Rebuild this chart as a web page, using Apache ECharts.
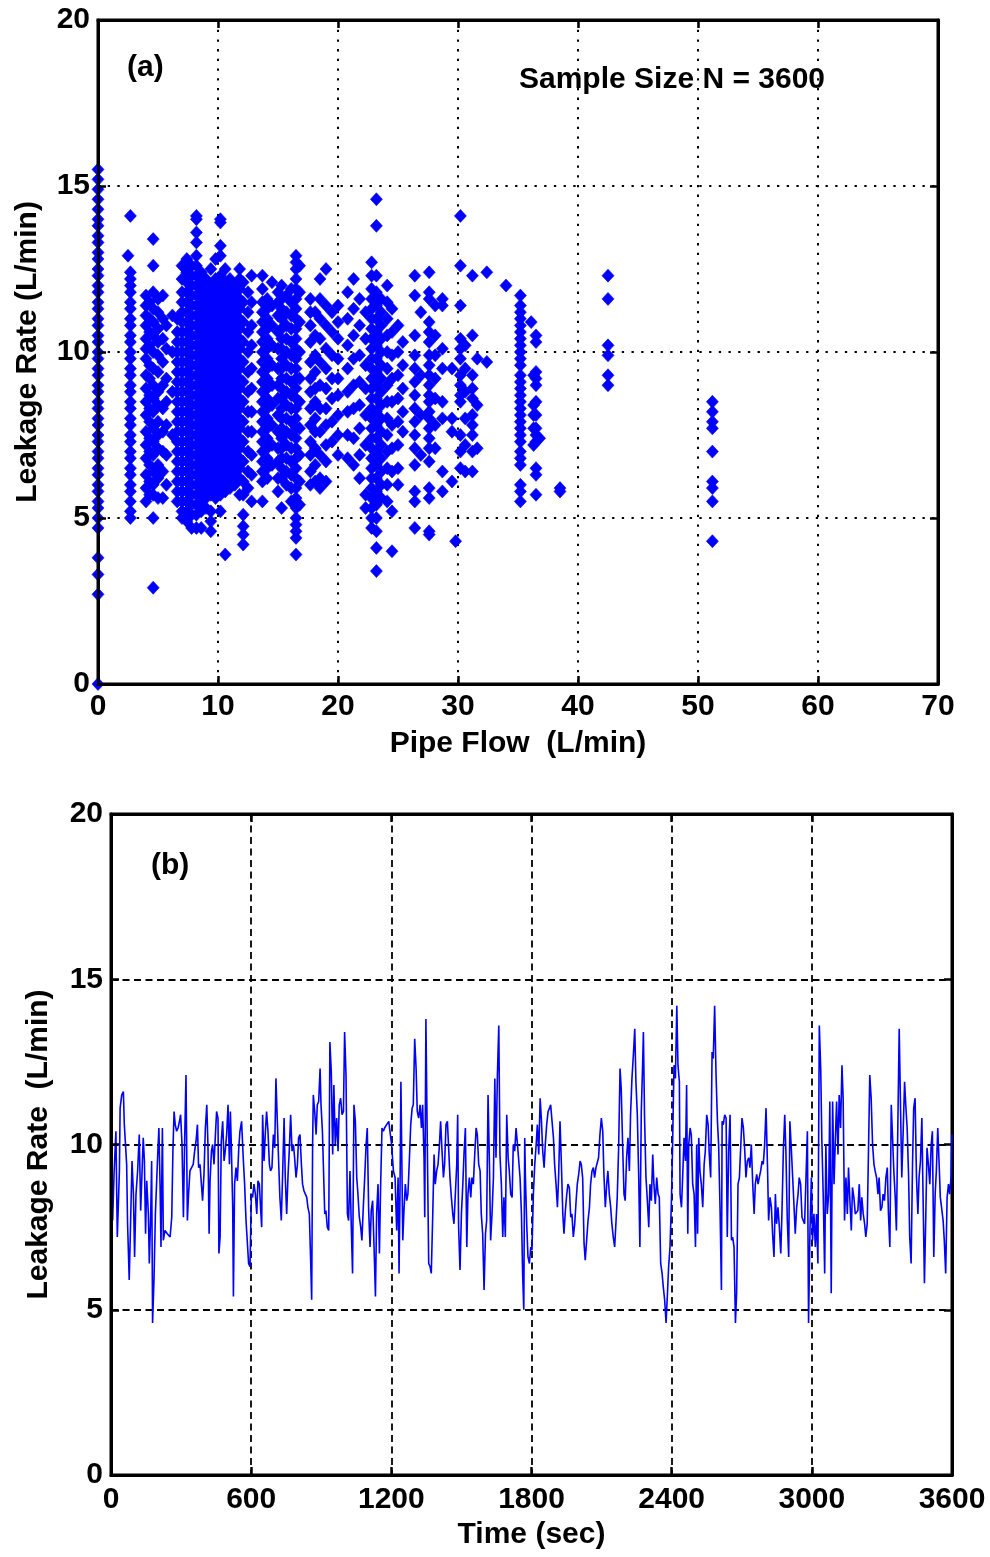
<!DOCTYPE html>
<html><head><meta charset="utf-8">
<script src="https://cdn.jsdelivr.net/npm/echarts@6/dist/echarts.min.js"></script>
<style>html,body{margin:0;padding:0;background:#fff}#c{width:990px;height:1557px}</style>
</head><body><div id="c"></div>
<script>
// ---------- Panel (a): Leakage rate vs pipe flow (columns of [flow, leak values]) ----------
const colsLow = [
  [0, [15.5,15.2,14.9,14.6,14.3,14.0,13.8,13.5,13.3,13.0,12.8,12.5,12.3,12.0,11.8,11.5,11.3,11.0,10.8,10.5,10.3,10.0,9.8,9.5,9.3,9.0,8.8,8.5,8.3,8.0,7.8,7.5,7.3,7.0,6.8,6.5,6.3,6.0,5.8,5.5,5.3,5.0,4.7,3.8,3.3,2.7,0.0]],
  [2.5, [12.9]],
  [2.7, [14.1,12.4,12.2,12.0,11.8,11.5,11.3,11.0,10.8,10.5,10.3,10.0,9.8,9.5,9.3,9.0,8.8,8.5,8.3,8.0,7.8,7.5,7.3,7.0,6.8,6.5,6.3,6.0,5.8,5.5,5.2,5.0]],
  [4.0, [11.7,11.4,11.1,10.8,10.4,10.1,9.8,9.3,8.9,8.5,8.1,7.6,7.2,6.8,6.3,5.9,5.5]],
  [4.3, [11.5,11.0,10.6,10.2,9.6,9.2,8.7,8.3,7.9,7.4,7.0,6.6,6.1,5.7]],
  [4.6, [13.4,12.6,11.8,11.3,10.9,10.5,10.0,9.5,9.0,8.6,8.2,7.7,7.3,6.9,6.4,6.0,5.7,5.0,2.9]],
  [5.0, [11.6,11.2,10.7,10.3,9.9,9.4,8.8,8.4,7.9,7.5,7.1,6.6,6.2,5.6]],
  [5.4, [11.7,11.0,10.4,9.7,9.0,8.3,7.6,7.0,6.4,5.6]],
  [5.7, [10.8,10.1,9.2,8.5,7.8,6.9,6.0]],
  [6.2, [11.1,10.0,8.8,7.5]]
];
const colsBlob = [
  [6.6, [11.0,10.6,10.3,10.0,9.7,9.4,9.1,8.8,8.5,8.2,7.9,7.6,7.3,7.0,6.7,6.4,6.1,5.8,5.5]],
  [7.0, [12.6,12.2,11.8,11.5,11.2,10.9,10.6,10.3,10.0,9.7,9.4,9.1,8.8,8.5,8.2,7.9,7.6,7.3,7.0,6.7,6.4,6.1,5.8,5.5,5.2,5.0]],
  [7.4, [12.8,12.4,12.1,11.8,11.5,11.2,10.9,10.6,10.3,10.0,9.7,9.4,9.1,8.8,8.5,8.2,7.9,7.6,7.3,7.0,6.7,6.4,6.1,5.8,5.5,5.2,4.9]],
  [7.8, [12.6,12.3,12.0,11.7,11.4,11.1,10.8,10.5,10.2,9.9,9.6,9.3,9.0,8.7,8.4,8.1,7.8,7.5,7.2,6.9,6.6,6.3,6.0,5.7,5.4,5.1,4.7]],
  [8.2, [14.1,14.0,13.6,13.3,12.9,12.6,12.3,12.0,11.7,11.4,11.1,10.8,10.5,10.2,9.9,9.6,9.3,9.0,8.7,8.4,8.1,7.8,7.5,7.2,6.9,6.6,6.3,6.0,5.7,5.4,5.1,4.7]],
  [8.6, [12.4,12.1,11.8,11.5,11.2,10.9,10.6,10.3,10.0,9.7,9.4,9.1,8.8,8.5,8.2,7.9,7.6,7.3,7.0,6.7,6.4,6.1,5.8,5.5,5.2,4.7]],
  [9.0, [12.2,11.9,11.6,11.3,11.0,10.7,10.4,10.1,9.8,9.5,9.2,8.9,8.6,8.3,8.0,7.7,7.4,7.1,6.8,6.5,6.2,5.9,5.6,5.3]],
  [9.4, [12.5,12.0,11.7,11.4,11.1,10.8,10.5,10.2,9.9,9.6,9.3,9.0,8.7,8.4,8.1,7.8,7.5,7.2,6.9,6.6,6.3,6.0,5.7,5.2,4.9,4.6]],
  [9.8, [12.8,12.2,11.9,11.6,11.3,11.0,10.7,10.4,10.1,9.8,9.5,9.2,8.9,8.6,8.3,8.0,7.7,7.4,7.1,6.8,6.5,6.2,5.9,5.6]],
  [10.2, [14.0,13.9,13.2,12.9,12.3,12.0,11.7,11.4,11.1,10.8,10.5,10.2,9.9,9.6,9.3,9.0,8.7,8.4,8.1,7.8,7.5,7.2,6.9,6.6,6.3,6.0,5.7,5.2]],
  [10.6, [12.5,12.1,11.8,11.5,11.2,10.9,10.6,10.3,10.0,9.7,9.4,9.1,8.8,8.5,8.2,7.9,7.6,7.3,7.0,6.7,6.4,6.1,5.8,3.9]],
  [11.0, [12.2,11.9,11.6,11.3,11.0,10.7,10.4,10.1,9.8,9.5,9.2,8.9,8.6,8.3,8.0,7.7,7.4,7.1,6.8,6.5,6.2,5.9]],
  [11.4, [12.0,11.7,11.4,11.1,10.8,10.5,10.2,9.9,9.6,9.3,9.0,8.7,8.4,8.1,7.8,7.5,7.2,6.9,6.6,6.3,6.0]],
  [11.8, [12.5,12.2,11.9,11.6,11.3,11.0,10.7,10.4,10.1,9.8,9.5,9.2,8.9,8.6,8.3,8.0,7.7,7.4,7.1,6.8,6.5,6.2,5.7]],
  [12.1, [12.1,11.5,10.9,10.3,9.7,9.1,8.5,7.9,7.3,6.7,6.1,5.7,5.1,4.75,4.5,4.2]],
  [12.5, [11.8,11.2,10.6,10.0,9.4,8.8,8.2,7.6,7.0,6.4,5.9]],
  [12.8, [12.3,11.5,10.8,10.2,9.5,8.9,8.2,7.6,6.9,6.3,5.5]]
];
const colsMid = [
  [13.7, [12.3,11.9,11.5,11.2,10.9,10.6,10.3,10.0,9.7,9.4,9.1,8.8,8.5,8.2,7.9,7.6,7.3,7.0,6.7,6.4,6.1,5.5]],
  [14.1, [11.6,11.3,11.0,10.7,10.4,10.1,9.8,9.5,9.2,8.9,8.6,8.3,8.0,7.7,7.4,7.1,6.8,6.5,6.2]],
  [14.5, [12.1,11.4,10.8,10.2,9.6,9.0,8.4,7.8,7.2,6.6]],
  [15.0, [11.8,11.5,11.1,10.6,10.1,9.5,9.0,8.6,8.1,7.6,7.1,6.7,6.2,5.8]],
  [15.3, [12.0,11.6,11.3,11.0,10.7,10.4,10.1,9.8,9.5,9.2,8.9,8.6,8.3,8.0,7.7,7.4,7.1,6.8,6.5,6.2,5.3]],
  [15.7, [11.7,11.2,10.8,10.4,10.0,9.6,9.2,8.8,8.4,8.0,7.6,7.2,6.8,6.4,6.0]],
  [16.1, [11.9,11.5,11.1,10.7,10.3,9.9,9.5,9.1,8.7,8.3,7.9,7.5,7.1,6.7,6.3,5.9,5.5]],
  [16.5, [12.9,12.7,12.5,12.2,11.9,11.6,11.3,11.0,10.7,10.4,10.1,9.8,9.5,9.2,8.9,8.6,8.3,8.0,7.7,7.4,7.1,6.8,6.5,6.2,5.9,5.6,5.3,5.0,4.8,4.6,4.4,3.9]],
  [16.8, [12.6,11.8,10.9,10.0,9.2,8.5,7.7,6.9,6.1,5.4]],
  [17.7, [11.6,11.2,10.8,10.3,9.7,9.2,8.8,8.3,7.8,7.3,6.9,6.4,6.0]],
  [18.1, [11.2,10.5,9.9,9.4,8.9,8.5,8.0,7.6,7.1,6.6,6.1]],
  [18.5, [12.2,11.6,11.0,10.4,9.7,9.0,8.3,7.6,6.9,6.2,5.9]],
  [19.0, [12.5,11.4,10.8,10.1,9.5,8.9,8.3,7.8,7.2,6.7,6.1]],
  [19.5, [11.2,10.6,9.9,9.2,8.6,7.9,7.3]],
  [20.0, [11.4,10.9,10.4,9.8,9.2,8.7,8.1,7.5,6.9]],
  [20.8, [11.8,11.0,10.2,9.5,8.8,8.2,7.5,6.8]],
  [21.3, [12.2,11.3,10.5,9.8,9.0,8.3,7.4,6.6]],
  [21.8, [11.6,10.8,9.9,9.1,8.4,7.7,6.9,6.2]],
  [22.3, [11.2,10.4,9.6,8.9,8.1,7.2,5.7,5.3]],
  [22.8, [12.7,12.3,11.9,11.6,11.3,11.0,10.7,10.4,10.1,9.8,9.5,9.2,8.9,8.6,8.3,8.0,7.7,7.4,7.1,6.8,6.5,6.2,5.9,5.6,5.3,5.0,4.7]],
  [23.2, [14.6,13.8,12.3,11.8,11.4,11.0,10.6,10.2,9.8,9.4,9.0,8.6,8.2,7.8,7.4,7.0,6.6,6.2,5.8,5.4,5.0,4.6,4.1,3.4]],
  [23.6, [11.6,11.2,10.8,10.4,10.0,9.6,9.2,8.8,8.4,8.0,7.6,7.2,6.8,6.4,6.0,5.6]],
  [24.1, [12.0,11.5,11.0,10.5,10.0,9.5,9.0,8.5,8.0,7.5,7.0,6.5,6.0,5.5]],
  [24.5, [11.3,10.6,9.9,9.2,8.5,7.8,7.1,6.4,5.2,4.0]],
  [25.0, [10.8,10.0,9.3,8.6,7.9,7.2,6.5,6.0]],
  [25.4, [10.3,9.6,8.9,8.2,7.6]]
];
const colsHigh = [
  [26.4, [12.3,11.7,10.5,9.9,9.5,9.1,8.7,8.3,7.9,7.5,7.1,6.6,5.8,5.5,4.7]],
  [26.9, [11.2,9.3,8.1,6.9]],
  [27.6, [12.4,11.8,11.6,10.9,10.6,10.3,9.9,9.6,9.3,9.0,8.7,8.5,8.2,8.0,7.7,7.4,7.1,6.7,5.9,5.6,4.6,4.5]],
  [28.1, [11.4,10.5,9.9,9.2,8.6,7.8,7.1]],
  [28.7, [11.6,11.4,10.1,9.5,8.5,8.0,6.4,5.8]],
  [29.5, [9.5,8.0,7.6,6.1]],
  [29.8, [4.3]],
  [30.2, [14.1,12.6,11.4,10.4,10.1,9.8,9.3,9.0,8.7,8.5,7.5,7.0,6.5]],
  [30.6, [10.2,9.5,8.8,8.0,7.2,6.4]],
  [31.2, [12.3,10.5,9.3,8.9,8.6,8.1,7.8,7.5,7.0,6.4]],
  [31.6, [9.8,8.4,7.1]],
  [32.4, [12.4,9.7]],
  [34.0, [12.0]],
  [35.2, [11.7,11.4,11.2,11.0,10.8,10.6,10.4,10.2,10.0,9.8,9.6,9.3,9.1,8.9,8.7,8.5,8.3,8.1,7.9,7.7,7.5,7.3,7.0,6.8,6.6,6.0,5.8,5.5]],
  [36.1, [10.9]],
  [36.3, [9.3,8.4,8.1,7.7,7.2]],
  [36.5, [10.5,10.3,9.4,9.2,9.0,8.5,8.1,7.7,7.5,7.3,6.5,6.3,5.7]],
  [36.8, [7.4]],
  [38.5, [5.9,5.8]],
  [42.5, [12.3,11.6,10.2,9.9,9.3,9.0]],
  [51.2, [8.5,8.2,7.9,7.7,7.0,6.1,5.9,5.5,4.3]]
];

// ---------- Panel (b): Leakage rate vs time, [sec, L/min] ----------
const leakTrace = [
[7,7.7],[13,9.1],[21,10.4],[27,7.2],[36,9.2],[39,11.1],[46,11.5],[53,11.6],[57,10.6],[67,9.4],[71,7.6],[78,5.9],[84,7.7],[90,9.5],[96,8.5],[101,6.6],[107,8.5],[114,9.2],[121,10.3],[127,8.0],[133,9.2],[138,10.2],[143,9.5],[148,7.3],[153,8.9],[160,7.9],[164,6.4],[170,7.9],[174,9.5],[178,4.6],[184,5.9],[190,7.9],[195,8.8],[200,9.7],[205,10.5],[210,8.8],[214,6.9],[220,10.5],[224,7.1],[231,7.4],[241,7.3],[253,7.2],[260,7.8],[265,9.8],[270,11.0],[275,10.6],[281,10.4],[287,10.5],[293,10.7],[298,10.9],[304,10.0],[310,7.8],[315,10.0],[321,12.1],[327,7.7],[332,8.5],[338,9.2],[345,9.2],[352,9.4],[358,9.8],[364,10.1],[370,10.6],[375,9.3],[381,9.4],[387,8.8],[392,8.3],[398,9.1],[404,10.5],[410,11.2],[415,10.0],[420,7.3],[424,8.9],[430,9.8],[435,10.0],[441,9.4],[447,10.3],[452,11.0],[458,10.8],[462,6.7],[467,7.2],[472,10.1],[478,10.7],[484,9.5],[489,9.8],[495,10.3],[501,11.2],[507,9.4],[511,11.0],[515,10.0],[521,8.1],[524,5.4],[529,8.8],[535,9.3],[541,8.9],[547,9.9],[552,10.4],[559,10.7],[566,9.6],[572,8.8],[578,7.7],[584,7.0],[589,6.4],[595,6.3],[601,8.5],[606,8.4],[612,8.8],[618,8.5],[624,7.9],[629,8.9],[635,8.8],[641,8.0],[645,7.5],[649,10.9],[655,9.5],[661,10.4],[666,11.0],[672,10.4],[678,9.4],[683,9.2],[689,9.3],[695,10.3],[701,9.9],[706,12.0],[712,10.7],[718,9.4],[723,8.4],[729,7.7],[735,9.2],[741,10.8],[746,9.0],[752,7.9],[758,9.1],[763,9.8],[769,10.9],[775,9.8],[781,10.0],[786,9.6],[792,9.0],[798,9.4],[803,10.2],[809,10.3],[815,9.4],[820,8.8],[826,8.6],[832,8.5],[838,8.4],[843,8.1],[849,7.9],[855,6.4],[859,5.3],[863,10.0],[866,11.5],[872,11.0],[878,10.3],[883,11.2],[889,11.3],[895,12.3],[899,11.2],[905,10.4],[909,9.4],[915,7.9],[920,8.0],[926,7.5],[932,7.4],[937,13.1],[943,12.2],[949,9.7],[954,11.8],[960,10.0],[966,10.8],[972,9.8],[977,11.2],[983,11.4],[989,10.9],[995,11.0],[1000,13.4],[1006,12.1],[1012,7.9],[1017,7.7],[1023,9.2],[1029,7.4],[1034,6.1],[1040,11.2],[1046,10.7],[1052,9.0],[1057,8.5],[1063,7.8],[1069,7.5],[1074,7.1],[1080,8.1],[1086,9.0],[1092,10.0],[1097,10.5],[1103,8.0],[1109,6.9],[1114,8.0],[1120,8.3],[1126,6.9],[1132,5.4],[1137,7.9],[1143,8.8],[1149,6.7],[1154,8.7],[1160,10.5],[1166,10.4],[1171,10.5],[1180,10.6],[1189,10.7],
[1201,10.0],[1209,9.2],[1216,9.0],[1223,7.4],[1229,9.0],[1233,6.1],[1237,8.5],[1241,11.9],[1245,9.5],[1249,7.1],[1254,8.0],[1260,8.8],[1266,8.3],[1271,8.5],[1277,9.5],[1283,10.6],[1289,11.1],[1294,11.2],[1300,13.2],[1306,12.3],[1311,11.0],[1317,10.8],[1323,11.2],[1329,10.5],[1334,11.2],[1340,9.6],[1343,7.8],[1348,13.8],[1354,10.0],[1360,6.4],[1366,6.3],[1371,6.1],[1377,7.8],[1383,9.7],[1388,8.8],[1394,9.2],[1400,9.4],[1406,10.0],[1411,10.7],[1417,9.8],[1423,9.0],[1428,9.4],[1434,10.6],[1440,10.7],[1446,9.8],[1451,9.0],[1457,8.4],[1463,7.9],[1468,7.6],[1474,8.5],[1480,9.4],[1484,10.9],[1488,7.5],[1494,6.2],[1500,7.9],[1506,8.8],[1511,9.7],[1517,10.5],[1523,6.9],[1528,8.5],[1534,9.0],[1540,8.4],[1545,9.0],[1551,8.8],[1557,9.7],[1563,10.5],[1568,10.3],[1574,9.4],[1580,9.2],[1585,7.9],[1591,7.3],[1597,5.6],[1603,7.3],[1608,7.7],[1614,11.5],[1620,9.4],[1625,7.1],[1631,7.9],[1637,9.0],[1643,12.0],[1648,9.6],[1654,12.1],[1660,13.6],[1665,9.7],[1671,8.8],[1677,7.2],[1682,8.4],[1688,7.2],[1694,10.9],[1700,9.6],[1705,9.2],[1711,8.5],[1717,8.4],[1722,10.0],[1728,9.8],[1734,10.5],[1740,10.0],[1745,10.0],[1751,9.0],[1757,7.9],[1762,6.1],[1767,5.0],[1771,10.2],[1774,9.0],[1780,7.5],[1785,6.6],[1791,6.4],[1797,6.9],[1802,6.8],[1808,8.5],[1814,9.4],[1820,10.0],[1825,10.6],[1831,9.7],[1837,11.4],[1842,10.8],[1848,9.8],[1854,9.3],[1859,10.0],[1865,10.6],[1871,11.0],[1877,11.1],[1882,11.2],[1888,10.7],[1894,10.2],[1899,9.4],[1905,8.8],[1911,8.1],[1916,9.0],[1922,10.7],[1928,9.4],[1934,7.9],[1939,7.3],[1945,8.0],[1951,8.5],[1956,8.8],[1962,8.7],[1968,7.8],[1973,7.9],[1979,7.2],[1985,7.6],[1991,8.3],[1996,8.8],[2002,9.1],[2008,9.5],[2013,9.4],[2019,9.0],[2025,7.0],[2030,6.5],[2036,7.1],[2042,7.7],[2048,8.1],[2053,8.8],[2059,9.2],[2065,9.3],[2070,9.0],[2076,9.3],[2082,9.3],[2087,9.6],[2093,10.3],[2099,10.8],[2105,10.4],[2110,9.1],[2116,8.1],[2122,8.8],[2127,9.2],[2133,8.5],[2139,8.1],[2144,7.6],[2150,7.2],[2156,6.9],[2162,7.7],[2167,8.4],[2173,9.9],[2179,12.3],[2184,11.7],[2190,10.0],[2196,8.5],[2201,8.3],[2207,9.6],[2213,10.2],[2219,9.2],[2224,10.9],[2230,12.0],[2236,12.7],[2242,13.5],[2247,11.9],[2253,10.9],[2259,9.0],[2264,6.9],[2270,11.0],[2276,12.5],[2279,13.4],[2284,10.8],[2290,9.0],[2296,8.3],[2302,7.5],[2307,8.8],[2313,8.3],[2319,9.7],[2324,8.8],[2330,8.2],[2336,9.0],[2342,8.5],[2347,8.4],[2353,6.4],[2359,6.1],[2364,5.7],[2370,5.3],[2376,4.6],[2382,5.5],[2387,6.3],[2393,6.9],[2399,8.3],[2404,10.0],[2410,12.4],[2416,12.0],[2422,14.2],[2427,12.4],[2433,11.9],
[2436,8.5],[2442,8.1],[2447,9.0],[2453,10.2],[2459,9.5],[2464,11.8],[2469,7.3],[2473,10.0],[2479,10.5],[2484,10.3],[2490,8.8],[2496,8.5],[2502,6.9],[2507,10.0],[2511,7.3],[2516,10.2],[2521,9.2],[2527,8.8],[2533,8.1],[2539,9.4],[2544,9.8],[2550,10.9],[2556,10.6],[2561,9.7],[2567,9.0],[2573,12.8],[2578,12.6],[2584,14.2],[2590,12.1],[2596,10.7],[2601,10.0],[2607,8.1],[2613,5.6],[2616,10.7],[2621,10.6],[2627,10.9],[2633,10.8],[2638,7.2],[2644,9.8],[2650,10.9],[2656,7.1],[2661,7.2],[2667,6.9],[2673,4.6],[2678,5.5],[2684,8.8],[2690,9.0],[2696,10.0],[2701,10.8],[2707,10.5],[2713,9.8],[2718,9.0],[2724,9.5],[2730,9.6],[2735,9.3],[2741,10.0],[2747,8.8],[2753,7.9],[2758,8.8],[2764,9.1],[2770,8.8],[2775,9.0],[2781,9.2],[2787,9.5],[2792,9.4],[2798,10.0],[2804,11.1],[2810,9.4],[2815,7.7],[2821,8.4],[2827,8.1],[2832,7.3],[2838,6.6],[2844,8.5],[2849,7.6],[2855,8.1],[2861,7.5],[2867,6.7],[2872,7.9],[2878,9.8],[2884,10.9],[2889,9.8],[2895,7.7],[2901,6.6],[2906,10.7],[2912,9.9],[2918,9.0],[2924,8.1],[2929,7.3],[2935,8.1],[2941,8.5],[2946,9.0],[2952,8.8],[2958,7.8],[2963,7.7],[2969,7.6],[2975,9.0],[2981,10.4],[2986,4.6],[2992,7.4],[2998,9.0],[3003,7.1],[3009,7.9],[3015,6.9],[3020,7.9],[3026,6.4],[3032,13.6],[3038,12.3],[3043,10.1],[3049,8.4],[3055,6.1],[3060,10.0],[3066,7.9],[3072,8.5],[3077,11.3],[3083,5.5],[3089,11.3],[3095,8.8],[3100,10.0],[3106,11.3],[3112,9.7],[3117,11.5],[3123,10.5],[3129,12.4],[3134,11.4],[3140,7.7],[3146,9.0],[3152,7.9],[3157,9.3],[3163,8.3],[3169,7.4],[3174,8.7],[3180,8.4],[3186,7.9],[3191,7.9],[3197,8.0],[3203,8.8],[3209,7.7],[3214,8.4],[3220,7.9],[3226,7.6],[3231,7.2],[3237,7.6],[3243,10.0],[3248,12.1],[3254,11.4],[3260,10.0],[3266,9.4],[3271,9.2],[3277,9.0],[3283,8.5],[3288,9.0],[3294,8.0],[3300,8.1],[3305,8.5],[3311,8.3],[3317,9.0],[3323,9.3],[3328,7.9],[3334,6.9],[3340,11.2],[3345,10.3],[3351,9.2],[3357,8.4],[3362,7.4],[3368,10.5],[3374,13.5],[3380,11.0],[3385,9.0],[3391,10.4],[3397,11.9],[3402,11.2],[3408,10.5],[3414,9.1],[3419,7.2],[3425,6.4],[3431,9.4],[3436,11.1],[3442,11.4],[3448,9.0],[3454,7.9],[3459,9.0],[3465,9.5],[3471,10.8],[3476,8.5],[3482,5.8],[3488,7.9],[3493,9.9],[3499,9.4],[3505,8.8],[3511,10.0],[3516,10.4],[3522,6.6],[3528,8.5],[3533,9.2],[3539,10.5],[3545,9.4],[3550,8.4],[3556,8.4],[3562,7.7],[3567,7.1],[3573,6.1],[3579,8.4],[3585,8.8],[3590,8.5],[3596,9.0],[3600,10.3]
];

// axis ranges / labels text
const flowRange = [0, 70, 10];
const timeRange = [0, 3600, 600];
const leakRange = [0, 20, 5];
const labelsText = {
  xA: 'Pipe Flow  (L/min)', yA: 'Leakage Rate (L/min)',
  xB: 'Time (sec)', yB: 'Leakage Rate  (L/min)',
  tagA: '(a)', tagB: '(b)', note: 'Sample Size N = 3600'
};

// ---------- build ----------
const scatterData = [];
[colsLow, colsBlob, colsMid, colsHigh].forEach(g => g.forEach(([f, vs]) => vs.forEach(v => scatterData.push([f, v]))));

const FONT = '"Liberation Sans", Arial, sans-serif';
const txt = { color: '#000', fontFamily: FONT, fontSize: 30, fontWeight: 'bold' };
const tickStyle = { show: true, inside: true, length: 8, lineStyle: { color: '#000', width: 2.5 } };
const lineAxis = { show: true, onZero: false, lineStyle: { color: '#000', width: 3 } };
const dotted = { show: true, lineStyle: { color: '#000', width: 2, type: [2.3, 7.4] } };
const dashed = { show: true, lineStyle: { color: '#000', width: 1.8, type: [7, 4.5] } };
const plain = v => String(v);

function mainX(grid, r, name, margin, gap) {
  return { gridIndex: grid, type: 'value', position: 'bottom', min: r[0], max: r[1], interval: r[2], z: 3,
    axisLine: lineAxis, axisTick: tickStyle, splitLine: { show: false },
    axisLabel: Object.assign({ margin: margin, formatter: plain }, txt),
    name: name, nameLocation: 'middle', nameGap: gap, nameTextStyle: txt };
}
function mirrorX(grid, r, split) {
  return { gridIndex: grid, type: 'value', position: 'top', min: r[0], max: r[1], interval: r[2], z: 0,
    axisLine: lineAxis, axisTick: tickStyle, axisLabel: { show: false }, splitLine: split };
}
function mainY(grid, r, name, margin, gap) {
  return { gridIndex: grid, type: 'value', position: 'left', min: r[0], max: r[1], interval: r[2], z: 3,
    axisLine: lineAxis, axisTick: tickStyle, splitLine: { show: false },
    axisLabel: Object.assign({ margin: margin, formatter: plain }, txt),
    name: name, nameLocation: 'middle', nameGap: gap, nameRotate: 90, nameTextStyle: txt };
}
function mirrorY(grid, r, split) {
  return { gridIndex: grid, type: 'value', position: 'right', min: r[0], max: r[1], interval: r[2], z: 0,
    axisLine: lineAxis, axisTick: tickStyle, axisLabel: { show: false }, splitLine: split };
}

const chart = echarts.init(document.getElementById('c'), null, { renderer: 'canvas' });
chart.setOption({
  backgroundColor: '#fff',
  animation: false,
  grid: [
    { left: 98, top: 20, width: 840, height: 664, show: true, borderColor: '#000', borderWidth: 3, backgroundColor: 'transparent' },
    { left: 111, top: 814, width: 841, height: 661, show: true, borderColor: '#000', borderWidth: 3, backgroundColor: 'transparent' }
  ],
  xAxis: [
    mainX(0, flowRange, labelsText.xA, 8, 45),
    mirrorX(0, flowRange, dotted),
    mainX(1, timeRange, labelsText.xB, 10, 45),
    mirrorX(1, timeRange, dashed)
  ],
  yAxis: [
    mainY(0, leakRange, labelsText.yA, 8, 55),
    mirrorY(0, leakRange, dotted),
    mainY(1, leakRange, labelsText.yB, 8, 57),
    mirrorY(1, leakRange, dashed)
  ],
  series: [
    { type: 'scatter', xAxisIndex: 0, yAxisIndex: 0, data: scatterData, symbol: 'diamond', symbolSize: [12, 13],
      itemStyle: { color: '#0000ff', borderColor: '#0000ff', borderWidth: 0.6, opacity: 1 }, clip: false, silent: true, large: false, z: 2 },
    { type: 'line', xAxisIndex: 2, yAxisIndex: 2, data: leakTrace, showSymbol: false, symbol: 'none',
      lineStyle: { color: '#0000ff', width: 1.6, opacity: 1 }, silent: true, z: 2 }
  ],
  graphic: [
    { type: 'text', left: 127, top: 53, style: { text: labelsText.tagA, fill: '#000', font: 'bold 30px ' + FONT } },
    { type: 'text', left: 519, top: 65, style: { text: labelsText.note, fill: '#000', font: 'bold 30px ' + FONT } },
    { type: 'text', left: 151, top: 851, style: { text: labelsText.tagB, fill: '#000', font: 'bold 30px ' + FONT } }
  ]
});
</script></body></html>
